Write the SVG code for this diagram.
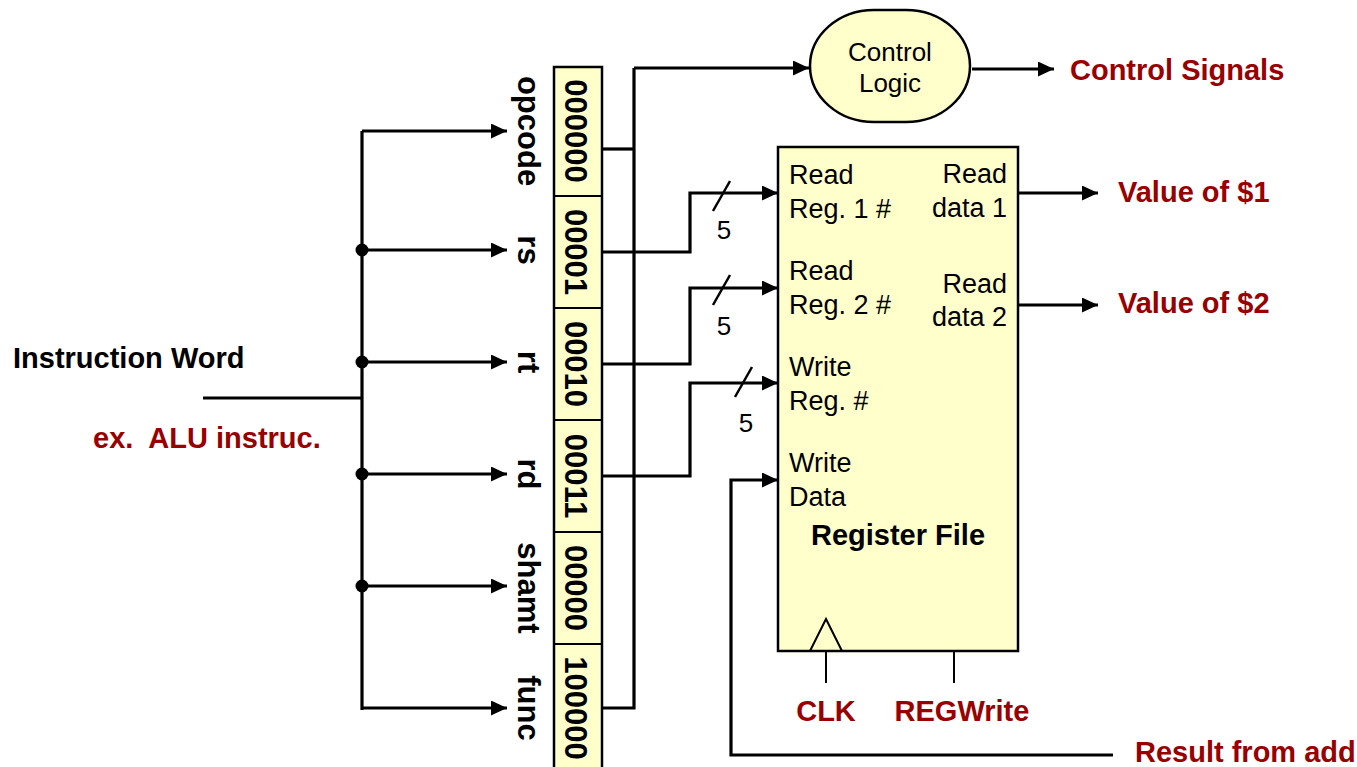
<svg xmlns="http://www.w3.org/2000/svg" width="1357" height="767" viewBox="0 0 1357 767">
<defs>
<marker id="arr" markerUnits="userSpaceOnUse" markerWidth="17" markerHeight="15" refX="16" refY="7.5" orient="auto">
<path d="M0,0 L16,7.5 L0,15 Z" fill="#000"/>
</marker>
<style>
.w{stroke:#000;stroke-width:3.2;fill:none}
.a{stroke:#000;stroke-width:3.2;fill:none;marker-end:url(#arr)}
.box{fill:#FFFFCC;stroke:#000;stroke-width:2.5}
.t{font-family:"Liberation Sans",Arial,sans-serif;font-size:26px;fill:#000}
.t2{font-family:"Liberation Sans",Arial,sans-serif;font-size:27px;fill:#000}
.b{font-family:"Liberation Sans",Arial,sans-serif;font-size:29px;font-weight:bold;fill:#000}
.r{font-family:"Liberation Sans",Arial,sans-serif;font-size:29px;font-weight:bold;fill:#990000}
.v{font-family:"Liberation Sans",Arial,sans-serif;font-size:31px;font-weight:bold;fill:#000;text-anchor:middle}
</style>
</defs>
<rect width="1357" height="767" fill="#fff"/>

<g id="instruction-label">
<text class="b" x="13" y="368">Instruction Word</text>
<text class="r" x="93" y="448" style="white-space:pre">ex.  ALU instruc.</text>
</g>

<g id="field-labels">
<text class="v" transform="translate(518,131) rotate(90)">opcode</text>
<text class="v" transform="translate(518,250) rotate(90)">rs</text>
<text class="v" transform="translate(518,362) rotate(90)">rt</text>
<text class="v" transform="translate(518,474) rotate(90)">rd</text>
<text class="v" transform="translate(518,588) rotate(90)">shamt</text>
<text class="v" transform="translate(518,708) rotate(90)">func</text>
</g>

<g id="instruction-fields">
<rect class="box" x="554" y="67" width="48" height="720"/>
<line x1="554" y1="196" x2="602" y2="196" stroke="#000" stroke-width="2"/>
<line x1="554" y1="308" x2="602" y2="308" stroke="#000" stroke-width="2"/>
<line x1="554" y1="420" x2="602" y2="420" stroke="#000" stroke-width="2"/>
<line x1="554" y1="532" x2="602" y2="532" stroke="#000" stroke-width="2"/>
<line x1="554" y1="644" x2="602" y2="644" stroke="#000" stroke-width="2"/>
<text class="v" transform="translate(565,131) rotate(90)">000000</text>
<text class="v" transform="translate(565,252) rotate(90)">00001</text>
<text class="v" transform="translate(565,364) rotate(90)">00010</text>
<text class="v" transform="translate(565,476) rotate(90)">00011</text>
<text class="v" transform="translate(565,588) rotate(90)">00000</text>
<text class="v" transform="translate(565,708) rotate(90)">100000</text>
</g>

<g id="control-logic">
<rect class="box" x="810" y="10" width="160" height="112" rx="64" ry="56"/>
<text class="t" x="890" y="61" text-anchor="middle">Control</text>
<text class="t" x="890" y="92" text-anchor="middle">Logic</text>
</g>

<g id="register-file">
<rect class="box" x="778" y="147" width="240" height="504"/>
<polyline points="810,651 826,619 842,651" fill="none" stroke="#000" stroke-width="2"/>
<text class="t2" x="789" y="184">Read</text>
<text class="t2" x="789" y="218">Reg. 1 #</text>
<text class="t2" x="789" y="280">Read</text>
<text class="t2" x="789" y="314">Reg. 2 #</text>
<text class="t2" x="789" y="376">Write</text>
<text class="t2" x="789" y="410">Reg. #</text>
<text class="t2" x="789" y="472">Write</text>
<text class="t2" x="789" y="506">Data</text>
<text class="t2" x="1007" y="183" text-anchor="end">Read</text>
<text class="t2" x="1007" y="217" text-anchor="end">data 1</text>
<text class="t2" x="1007" y="293" text-anchor="end">Read</text>
<text class="t2" x="1007" y="326" text-anchor="end">data 2</text>
<text class="b" x="898" y="545" text-anchor="middle">Register File</text>
</g>

<g id="signal-labels">
<text class="r" x="1070" y="80">Control Signals</text>
<text class="r" x="1118" y="202">Value of $1</text>
<text class="r" x="1118" y="313">Value of $2</text>
<text class="r" x="826" y="721" text-anchor="middle">CLK</text>
<text class="r" x="962" y="721" text-anchor="middle">REGWrite</text>
<text class="r" x="1135" y="762">Result from add</text>
</g>

<g id="connectors">
<line class="w" x1="203" y1="398" x2="363" y2="398"/>
<line class="w" x1="362" y1="131" x2="362" y2="710"/>
<polyline class="a" points="362,131 507,131"/>
<line class="a" x1="362" y1="250" x2="507" y2="250"/>
<line class="a" x1="362" y1="362" x2="507" y2="362"/>
<line class="a" x1="362" y1="474" x2="507" y2="474"/>
<line class="a" x1="362" y1="586" x2="507" y2="586"/>
<polyline class="a" points="362,708 507,708"/>
<circle cx="362" cy="250" r="6.5" fill="#000"/>
<circle cx="362" cy="362" r="6.5" fill="#000"/>
<circle cx="362" cy="474" r="6.5" fill="#000"/>
<circle cx="362" cy="586" r="6.5" fill="#000"/>

<polyline class="w" points="602,149 634,149"/>
<polyline class="w" points="602,708 634,708 634,68"/>
<line class="a" x1="634" y1="68" x2="809" y2="68"/>

<polyline class="a" points="602,252 690,252 690,193 778,193"/>
<polyline class="a" points="602,364 690,364 690,288 778,288"/>
<polyline class="a" points="602,476 690,476 690,383 778,383"/>
<line x1="713" y1="211" x2="730" y2="181" stroke="#000" stroke-width="2.5"/>
<line x1="713" y1="305" x2="730" y2="275" stroke="#000" stroke-width="2.5"/>
<line x1="735" y1="397" x2="752" y2="367" stroke="#000" stroke-width="2.5"/>
<text class="t" x="724" y="239" text-anchor="middle">5</text>
<text class="t" x="724" y="335" text-anchor="middle">5</text>
<text class="t" x="746" y="432" text-anchor="middle">5</text>

<polyline class="a" points="1113,755 731,755 731,480 778,480"/>

<line class="a" x1="972" y1="69" x2="1054" y2="69"/>
<line class="a" x1="1018" y1="193" x2="1098" y2="193"/>
<line class="a" x1="1018" y1="305" x2="1098" y2="305"/>

<line x1="826" y1="651" x2="826" y2="683" stroke="#000" stroke-width="2"/>
<line x1="954" y1="651" x2="954" y2="683" stroke="#000" stroke-width="2"/>
</g>
</svg>
